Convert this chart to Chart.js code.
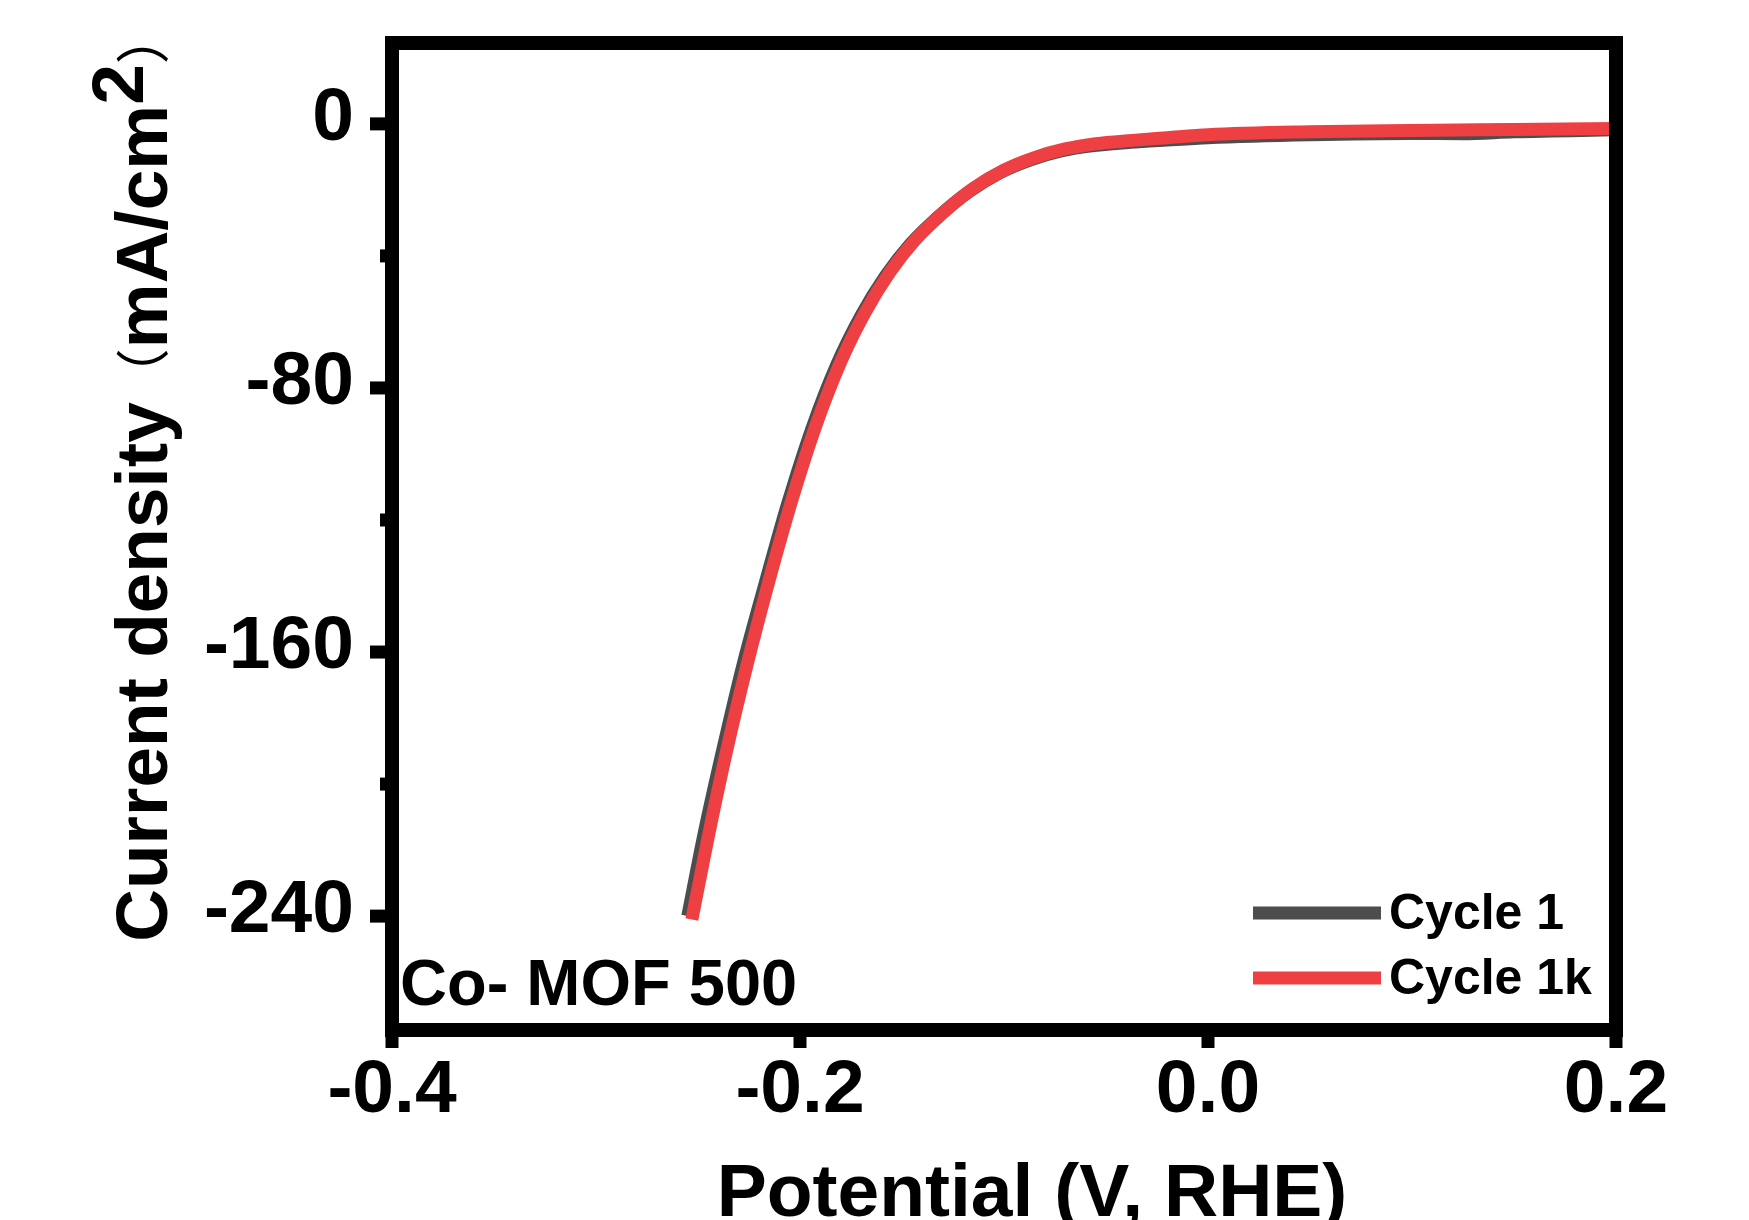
<!DOCTYPE html>
<html>
<head>
<meta charset="utf-8">
<title>Co-MOF 500 polarization curves</title>
<script src="https://cdn.jsdelivr.net/npm/chart.js@4.4.1/dist/chart.umd.min.js"></script>
<style>
  html, body { margin: 0; padding: 0; background: #fff; }
  #wrap { width: 1749px; height: 1220px; }
</style>
</head>
<body>
<div id="wrap"><canvas id="lsvChart" width="1749" height="1220"></canvas></div>
<script>
// values: potential in V vs RHE, current density in mA/cm2
const cycle1Potential = [-0.255, -0.247, -0.238, -0.228, -0.217, -0.206, -0.194, -0.182, -0.170, -0.158, -0.146, -0.132, -0.117, -0.102, -0.087, -0.072, -0.056, -0.038, -0.020, 0.000, 0.050, 0.100, 0.125, 0.150, 0.200];
const cycle1Current = [-240, -215, -190, -164, -139, -115, -92, -73, -58, -46, -36.5, -28, -20.5, -14.8, -10.9, -8.2, -6.6, -5.6, -4.9, -4.2, -3.3, -2.9, -3.0, -2.4, -1.8];

const cycle1kPotential = [-0.253, -0.245, -0.236, -0.226, -0.215, -0.204, -0.192, -0.180, -0.168, -0.156, -0.144, -0.130, -0.115, -0.100, -0.085, -0.070, -0.055, -0.037, -0.020, 0.000, 0.050, 0.100, 0.150, 0.200];
const cycle1kCurrent = [-241, -216, -190, -164, -138, -114, -91, -72, -57, -45, -35.5, -27, -19.5, -14, -10.2, -7.6, -6.0, -5.0, -4.2, -3.3, -2.4, -2.0, -1.7, -1.4];

const seriesLabels = ['Cycle 1', 'Cycle 1k'];
const seriesColors = ['#4d4d4d', '#ee3f43'];

const xTicks = [-0.4, -0.2, 0.0, 0.2];
const yTicks = [0, -80, -160, -240];
const yMinorTicks = [-40, -120, -200];

const sampleName = 'Co- MOF 500';
const xTitle = 'Potential (V, RHE)';

const FONT = "'Liberation Sans', Arial, sans-serif";

function toPoints(xs, ys) {
  return xs.map((x, i) => ({ x: x, y: ys[i] }));
}

// frame, outward ticks, axis titles, sample name and legend
const decorPlugin = {
  id: 'decor',
  afterDatasetsDraw(chart) {
    const ctx = chart.ctx;
    const area = chart.chartArea;
    const xs = chart.scales.x;
    const ys = chart.scales.y;
    ctx.save();
    ctx.strokeStyle = '#000';
    ctx.lineJoin = 'miter';
    ctx.lineCap = 'butt';

    // ticks
    ctx.lineWidth = 13;
    xTicks.forEach(v => {
      const px = xs.getPixelForValue(v);
      ctx.beginPath();
      ctx.moveTo(px, area.bottom);
      ctx.lineTo(px, area.bottom + 18);
      ctx.stroke();
    });
    yTicks.forEach(v => {
      const py = ys.getPixelForValue(v);
      ctx.beginPath();
      ctx.moveTo(area.left, py);
      ctx.lineTo(area.left - 22, py);
      ctx.stroke();
    });
    yMinorTicks.forEach(v => {
      const py = ys.getPixelForValue(v);
      ctx.beginPath();
      ctx.moveTo(area.left, py);
      ctx.lineTo(area.left - 12, py);
      ctx.stroke();
    });

    // frame
    ctx.lineWidth = 14;
    ctx.strokeRect(area.left, area.top, area.right - area.left, area.bottom - area.top);

    ctx.fillStyle = '#000';
    ctx.textBaseline = 'alphabetic';

    // x title
    ctx.font = 'bold 75px ' + FONT;
    ctx.textAlign = 'center';
    ctx.fillText(xTitle, 1032, 1216);

    // y title with raised 2
    ctx.save();
    ctx.translate(167, 476);
    ctx.rotate(-Math.PI / 2);
    ctx.textAlign = 'left';
    const cjk = "'Noto Sans CJK SC', sans-serif";
    const parts = [
      { t: 'Current density', f: 'bold 73px ' + FONT, dy: 0 },
      { t: '\uFF08', f: '54px ' + cjk, dy: -4 },
      { t: 'mA/cm', f: 'bold 73px ' + FONT, dy: 0 },
      { t: '2', f: 'bold 73px ' + FONT, dy: -24 },
      { t: '\uFF09', f: '54px ' + cjk, dy: -4 }
    ];
    let total = 0;
    parts.forEach(p => { ctx.font = p.f; p.w = ctx.measureText(p.t).width; total += p.w; });
    let cx = -total / 2;
    parts.forEach(p => { ctx.font = p.f; ctx.fillText(p.t, cx, p.dy); cx += p.w; });
    ctx.restore();

    // sample name
    ctx.font = 'bold 65px ' + FONT;
    ctx.textAlign = 'left';
    ctx.fillText(sampleName, 400, 1005);

    // legend
    const rows = [913, 978];
    chart.data.datasets.forEach((ds, i) => {
      ctx.strokeStyle = ds.borderColor;
      ctx.lineWidth = 13;
      ctx.beginPath();
      ctx.moveTo(1253, rows[i]);
      ctx.lineTo(1381, rows[i]);
      ctx.stroke();
      ctx.font = 'bold 50px ' + FONT;
      ctx.fillText(ds.label, 1389, rows[i] + 16);
    });
    ctx.restore();
  }
};

const tickFont = { family: FONT, size: 75, weight: 'bold', lineHeight: 1 };

// keep the plot box where the figure has it: no extra label padding
function noPad(s) {
  s.paddingTop = 0;
  s.paddingBottom = 0;
  s.paddingLeft = 0;
  s.paddingRight = 0;
}

new Chart(document.getElementById('lsvChart').getContext('2d'), {
  type: 'scatter',
  data: {
    datasets: [
      {
        label: seriesLabels[0],
        data: toPoints(cycle1Potential, cycle1Current),
        showLine: true,
        borderColor: seriesColors[0],
        borderWidth: 13,
        pointRadius: 0,
        cubicInterpolationMode: 'monotone',
        order: 2
      },
      {
        label: seriesLabels[1],
        data: toPoints(cycle1kPotential, cycle1kCurrent),
        showLine: true,
        borderColor: seriesColors[1],
        borderWidth: 13,
        pointRadius: 0,
        cubicInterpolationMode: 'monotone',
        order: 1
      }
    ]
  },
  options: {
    responsive: false,
    animation: false,
    layout: { padding: { top: 43, right: 133, left: 0, bottom: 0 } },
    plugins: { legend: { display: false }, tooltip: { enabled: false } },
    scales: {
      x: {
        type: 'linear',
        min: -0.4,
        max: 0.2,
        afterBuildTicks: s => { s.ticks = xTicks.map(v => ({ value: v })); },
        afterFit: s => { s.height = 190; noPad(s); },
        grid: { display: false, drawTicks: false },
        border: { display: false },
        ticks: { color: '#000', font: tickFont, padding: 24, maxRotation: 0, autoSkip: false, callback: v => v.toFixed(1) }
      },
      y: {
        type: 'linear',
        min: -274.5,
        max: 24.5,
        afterBuildTicks: s => { s.ticks = yTicks.map(v => ({ value: v })); },
        afterFit: s => { s.width = 392; noPad(s); },
        grid: { display: false, drawTicks: false },
        border: { display: false },
        ticks: { color: '#000', font: tickFont, padding: 38, labelOffset: -5, autoSkip: false, callback: v => String(v) }
      }
    }
  },
  plugins: [decorPlugin]
});
</script>
</body>
</html>
